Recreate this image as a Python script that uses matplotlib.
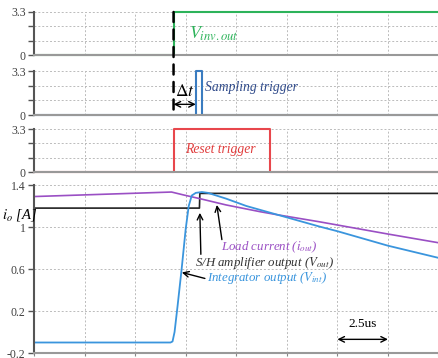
import matplotlib
matplotlib.use("Agg")
import matplotlib.pyplot as plt
from matplotlib.patches import ConnectionPatch

plt.rcParams['font.family'] = ['Liberation Serif', 'DejaVu Serif']
plt.rcParams['mathtext.fontset'] = 'stix'

# time axis in us, 8 divisions of 2.5us
x_ticks = [0, 2.5, 5, 7.5, 10, 12.5, 15, 17.5, 20]

# digital signals (V)
inv_t = [0, 6.9, 6.9, 20]
inv_v = [0, 0, 3.3, 3.3]
samp_t = [0, 8.0, 8.0, 8.3, 8.3, 20]
samp_v = [0, 0, 3.3, 3.3, 0, 0]
reset_t = [0, 6.9, 6.9, 11.65, 11.65, 20]
reset_v = [0, 0, 3.3, 3.3, 0, 0]

# analog signals (A)
load_t = [0, 6.8, 7.4, 8.2, 9.5, 11.2, 12.05, 14.1, 17.5, 20]
load_v = [1.29, 1.333, 1.305, 1.27, 1.21, 1.145, 1.116, 1.05, 0.933, 0.85]
sh_t = [0, 8.18, 8.2, 20]
sh_v = [1.18, 1.18, 1.32, 1.32]
int_t = [0, 6.75, 6.85, 6.95, 7.1, 7.3, 7.5, 7.65, 7.8, 8.0, 8.3, 8.6,
         9.5, 10.5, 12.05, 14.1, 15, 17.5, 20]
int_v = [-0.1, -0.1, -0.09, 0.0, 0.25, 0.6, 0.98, 1.2, 1.3, 1.325, 1.333, 1.325,
         1.27, 1.2, 1.116, 1.005, 0.96, 0.822, 0.706]

grid_kw = dict(color='#bbbbbb', linestyle=(0, (2, 2)), linewidth=0.7)
tick_col = '#404040'

fig = plt.figure(figsize=(4.39, 3.58), dpi=100)
left, width = 34 / 439, 404.5 / 439
ax1 = fig.add_axes([left, 1 - 55 / 358, width, 43 / 358])
ax2 = fig.add_axes([left, 1 - 115 / 358, width, 44 / 358])
ax3 = fig.add_axes([left, 1 - 172 / 358, width, 43 / 358])
ax4 = fig.add_axes([left, 1 - 353 / 358, width, 168 / 358])


def style(ax, yticks, ylabels, ylim, xlen):
    ax.set_xlim(0, 20)
    ax.set_ylim(*ylim)
    ax.set_xticks(x_ticks)
    ax.set_xticklabels([])
    ax.set_yticks(yticks)
    ax.set_yticklabels(ylabels, fontsize=8.5, color=tick_col)
    ax.tick_params(axis='y', direction='out', length=4, width=1, color='#555555', pad=2)
    ax.tick_params(axis='x', direction='out', length=xlen, width=0.8, color='#888888')
    for s in ['top', 'right']:
        ax.spines[s].set_visible(False)
    ax.spines['left'].set_color('#555555')
    ax.spines['left'].set_linewidth(1.5)
    ax.spines['bottom'].set_color('#999999')
    ax.spines['bottom'].set_linewidth(1.5)
    ax.grid(True, **grid_kw)
    ax.set_axisbelow(True)


for ax in [ax1, ax2, ax3]:
    style(ax, [0, 1.1, 2.2, 3.3], ['0', '', '', '3.3'], (0, 3.3), 0)
style(ax4, [-0.2, 0.2, 0.6, 1.0, 1.4], ['-0.2', '0.2', '0.6', '1', '1.4'], (-0.2, 1.4), 2)

ax1.plot(inv_t, inv_v, color='#2db35a', lw=1.5, clip_on=False)
ax1.text(7.65, 1.6, r'$V_{inv.out}$', color='#2db35a', fontsize=13, va='center')

ax2.plot(samp_t, samp_v, color='#3a7cc0', lw=1.5, clip_on=False)
ax2.text(8.45, 2.05, 'Sampling trigger', color='#2f4a8a', fontsize=9.8, style='italic', va='center')
ax2.annotate('', xy=(8.0, 0.8), xytext=(6.9, 0.8),
             arrowprops=dict(arrowstyle='<->', lw=1, color='black', shrinkA=0, shrinkB=0))
ax2.text(7.45, 1.75, r'$\Delta t$', fontsize=12.5, ha='center', va='center')

ax3.plot(reset_t, reset_v, color='#e8474c', lw=1.5, clip_on=False)
ax3.text(7.45, 1.7, 'Reset trigger', color='#e03c3c', fontsize=9.8, style='italic', va='center')

con = ConnectionPatch(xyA=(6.9, 3.3), coordsA=ax1.transData, xyB=(6.9, 0), coordsB=ax2.transData,
                      linestyle=(0, (4, 3)), lw=1.8, color='black')
fig.add_artist(con)

ax4.plot(sh_t, sh_v, color='#222222', lw=1.2)
ax4.plot(load_t, load_v, color='#9a4fc4', lw=1.2)
ax4.plot(int_t, int_v, color='#3a95dd', lw=1.3)

arrow = dict(arrowstyle='->', lw=1, color='black', shrinkA=0, shrinkB=0)
ax4.annotate('', xy=(9.04, 1.21), xytext=(9.29, 0.88), arrowprops=arrow)
ax4.annotate('', xy=(8.2, 1.135), xytext=(8.25, 0.74), arrowprops=arrow)
ax4.annotate('', xy=(7.31, 0.567), xytext=(8.45, 0.51), arrowprops=arrow)
ax4.text(9.24, 0.805, r'Load current ($i_{out}$)', color='#9a4fc4', fontsize=9.3, style='italic', va='center')
ax4.text(7.95, 0.66, r'S/H amplifier output ($V_{out}$)', color='#333333', fontsize=9.3, style='italic', va='center')
ax4.text(8.55, 0.515, r'Integrator output ($V_{int}$)', color='#3a95dd', fontsize=9.3, style='italic', va='center')

ax4.annotate('', xy=(17.5, -0.07), xytext=(15, -0.07),
             arrowprops=dict(arrowstyle='<->', lw=1, color='black', shrinkA=0, shrinkB=0))
ax4.text(16.25, 0.075, '2.5us', fontsize=9.5, ha='center', va='center')

ax4.text(-0.035, 0.82, r'$i_o$ [A]', transform=ax4.transAxes, fontsize=10.5, style='italic',
         ha='center', va='center')

fig.savefig('out.png', dpi=100)
